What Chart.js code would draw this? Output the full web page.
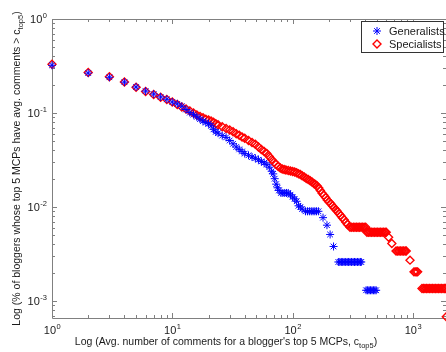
<!DOCTYPE html>
<html>
<head>
<meta charset="utf-8">
<script src="https://cdn.jsdelivr.net/npm/chart.js"></script>
<style>
  html, body { margin: 0; padding: 0; background: #fff; }
  canvas { display: block; }
</style>
</head>
<body>
<canvas id="chart" width="446" height="352"></canvas>
<script>
// avg. comments (c_top5) and fraction of bloggers above it
var genX = [1, 2, 3, 4, 5, 6, 7, 8, 9,
  10, 11, 12, 13, 14, 15, 16, 17, 18, 19, 20, 21, 22, 23, 24,
  26, 28, 30, 32, 34, 36, 38, 40,
  43, 46, 49, 52, 55, 58, 61, 64, 67,
  69, 71, 73, 75, 77,
  80, 83, 86, 89, 92,
  96, 100, 104, 108, 112, 116, 120,
  128, 133, 138, 143, 148, 153, 158, 164,
  179, 193, 205, 219,
  240, 247, 254, 261, 268, 276, 284, 292, 300, 309, 318, 327, 336, 346, 356, 366, 372,
  408, 420, 432, 444, 457, 470, 483, 495];
var genY = [0.322, 0.266, 0.240, 0.213, 0.189, 0.171, 0.159, 0.148, 0.140,
  0.131, 0.125, 0.118, 0.109, 0.101, 0.096, 0.091, 0.086, 0.082, 0.079, 0.077, 0.073, 0.067, 0.063, 0.061,
  0.0575, 0.055, 0.051, 0.047, 0.0435, 0.041, 0.039, 0.037,
  0.0355, 0.034, 0.033, 0.0318, 0.0305, 0.0295, 0.0282, 0.0265, 0.0240,
  0.0225, 0.0200, 0.0175, 0.0160, 0.0150,
  0.0141, 0.0141, 0.0141, 0.0141, 0.0141,
  0.0135, 0.0128, 0.0122, 0.0115, 0.0103, 0.0100, 0.0095,
  0.0090, 0.0090, 0.0090, 0.0090, 0.0090, 0.0090, 0.0090, 0.0090,
  0.0077, 0.0064, 0.0051, 0.0038,
  0.0026, 0.0026, 0.0026, 0.0026, 0.0026, 0.0026, 0.0026, 0.0026, 0.0026, 0.0026, 0.0026, 0.0026, 0.0026, 0.0026, 0.0026, 0.0026, 0.0026,
  0.0013, 0.0013, 0.0013, 0.0013, 0.0013, 0.0013, 0.0013, 0.0013];

var specX = [1, 2, 3, 4, 5, 6, 7, 8, 9,
  10, 11, 12, 13, 14, 15, 16, 17, 18, 19, 20, 21, 22, 23, 24,
  26, 28, 30, 32, 34, 36, 38, 40,
  43, 46, 49, 52, 55, 58, 61, 64, 67,
  70, 73, 76, 79, 82, 85, 88,
  92, 96, 100, 104, 108, 112, 116, 120,
  125, 130, 135, 140, 145, 150, 155, 160, 165, 170, 176,
  182, 188, 194, 200, 207, 214, 221, 228, 235, 243, 251, 259, 268, 277, 286,
  300, 310, 320, 330, 340, 350, 360, 371, 382, 393, 405,
  415, 427, 440, 453, 466, 480, 494, 508, 523, 538, 554, 570, 587, 600,
  628, 668,
  724, 745, 767, 790, 813, 837, 862, 880,
  946,
  1020, 1045, 1070, 1095,
  1190, 1225, 1260, 1297, 1335, 1374, 1414, 1455, 1498, 1541, 1586, 1632, 1680, 1729, 1780, 1832, 1870,
  1895];
var specY = [0.330, 0.270, 0.243, 0.214, 0.188, 0.169, 0.157, 0.147, 0.139,
  0.131, 0.123, 0.116, 0.110, 0.105, 0.100, 0.095, 0.092, 0.089, 0.086, 0.084, 0.082, 0.0795, 0.077, 0.075,
  0.0715, 0.0685, 0.066, 0.063, 0.060, 0.058, 0.0555, 0.054,
  0.051, 0.0485, 0.0465, 0.0435, 0.041, 0.039, 0.037, 0.0345, 0.032,
  0.030, 0.0285, 0.027, 0.026, 0.0253, 0.0250, 0.0248,
  0.0245, 0.0242, 0.0239, 0.0236, 0.0231, 0.0226, 0.0221, 0.0215,
  0.0208, 0.0201, 0.0196, 0.0190, 0.0184, 0.0178, 0.0173, 0.0167, 0.0159, 0.0150, 0.0140,
  0.0133, 0.0126, 0.0119, 0.0114, 0.0109, 0.0103, 0.0098, 0.0094, 0.0090, 0.0085, 0.0081, 0.0077, 0.0073, 0.0069, 0.0065,
  0.0061, 0.0061, 0.0061, 0.0061, 0.0061, 0.0061, 0.0061, 0.0061, 0.0061, 0.0061, 0.0061,
  0.0054, 0.0054, 0.0054, 0.0054, 0.0054, 0.0054, 0.0054, 0.0054, 0.0054, 0.0054, 0.0054, 0.0054, 0.0054, 0.0054,
  0.00476, 0.00408,
  0.0034, 0.0034, 0.0034, 0.0034, 0.0034, 0.0034, 0.0034, 0.0034,
  0.00272,
  0.00204, 0.00204, 0.00204, 0.00204,
  0.00136, 0.00136, 0.00136, 0.00136, 0.00136, 0.00136, 0.00136, 0.00136, 0.00136, 0.00136, 0.00136, 0.00136, 0.00136, 0.00136, 0.00136, 0.00136, 0.00136,
  0.00068];

var xDecades = [0, 1, 2, 3];
var yDecades = [0, -1, -2, -3];
var xMin = 1, xMax = 1884;
var yMin = 6.59e-4, yMax = 1;

var FONT = '"Liberation Sans", Arial, Helvetica, sans-serif';
var INK = '#1a1a1a';
var AXIS = '#808080';

function pts(xs, ys) {
  return xs.map(function (x, i) { return { x: x, y: ys[i] }; });
}

// "10" with a raised exponent, matlab style
function drawPow(ctx, px, py, exp, align) {
  var base = '10', sup = String(exp);
  ctx.font = '11px ' + FONT;
  var w1 = ctx.measureText(base).width;
  ctx.font = '7.5px ' + FONT;
  var w2 = ctx.measureText(sup).width;
  var left = align === 'right' ? px - w1 - w2 - 0.5 : px - (w1 + w2) / 2;
  ctx.textAlign = 'left';
  ctx.textBaseline = 'alphabetic';
  ctx.font = '11px ' + FONT;
  ctx.fillText(base, left, py);
  ctx.font = '7.5px ' + FONT;
  ctx.fillText(sup, left + w1 + 0.5, py - 5);
}

function drawSubText(ctx, pre, sub, post, cx, cy) {
  ctx.textAlign = 'left';
  ctx.textBaseline = 'alphabetic';
  ctx.font = '10.5px ' + FONT;
  var w1 = ctx.measureText(pre).width;
  var w3 = ctx.measureText(post).width;
  ctx.font = '7.5px ' + FONT;
  var w2 = ctx.measureText(sub).width;
  var left = cx - (w1 + w2 + w3) / 2;
  ctx.font = '10.5px ' + FONT;
  ctx.fillText(pre, left, cy);
  ctx.fillText(post, left + w1 + w2, cy);
  ctx.font = '7.5px ' + FONT;
  ctx.fillText(sub, left + w1, cy + 3);
}

var frame = {
  id: 'frame',
  beforeDatasetsDraw: function (chart) {
    var ctx = chart.ctx, a = chart.chartArea;
    var xs = chart.scales.x, ys = chart.scales.y;
    ctx.save();
    ctx.strokeStyle = AXIS;
    ctx.lineWidth = 1;
    ctx.beginPath();
    ctx.moveTo(a.left + 0.5, a.bottom + 0.5);
    ctx.lineTo(a.left + 0.5, a.top + 0.5);
    ctx.lineTo(a.right + 0.5, a.top + 0.5);
    ctx.lineTo(a.right + 0.5, a.bottom + 0.5);
    ctx.closePath();
    ctx.stroke();

    ctx.beginPath();
    xDecades.forEach(function (e) {
      for (var m = 1; m <= 9; m++) {
        var v = m * Math.pow(10, e);
        if (v < xMin || v > xMax) continue;
        var p = Math.round(xs.getPixelForValue(v)) + 0.5;
        var len = m === 1 ? 5 : 3;
        ctx.moveTo(p, a.bottom); ctx.lineTo(p, a.bottom - len);
        ctx.moveTo(p, a.top); ctx.lineTo(p, a.top + len);
      }
    });
    [-4, -3, -2, -1, 0].forEach(function (e) {
      for (var m = 1; m <= 9; m++) {
        var v = m * Math.pow(10, e);
        if (v < yMin || v > yMax) continue;
        var p = Math.round(ys.getPixelForValue(v)) + 0.5;
        var len = m === 1 ? 5 : 3;
        ctx.moveTo(a.left, p); ctx.lineTo(a.left + len, p);
        ctx.moveTo(a.right, p); ctx.lineTo(a.right - len, p);
      }
    });
    ctx.stroke();

    ctx.fillStyle = INK;
    xDecades.forEach(function (e) {
      drawPow(ctx, xs.getPixelForValue(Math.pow(10, e)), 334, e, 'center');
    });
    yDecades.forEach(function (e) {
      drawPow(ctx, a.left - 5, ys.getPixelForValue(Math.pow(10, e)) + 4, e, 'right');
    });

    drawSubText(ctx, "Log (Avg. number of comments for a blogger's top 5 MCPs, c", 'top5', ')', 226, 345);
    ctx.translate(20, (a.top + a.bottom) / 2);
    ctx.rotate(-Math.PI / 2);
    drawSubText(ctx, 'Log (% of bloggers whose top 5 MCPs have avg. comments > c', 'top5', ')', 0, 0);
    ctx.restore();
  },
  afterDatasetsDraw: function (chart) {
    var ctx = chart.ctx;
    ctx.save();
    ctx.fillStyle = '#fff';
    ctx.strokeStyle = '#333';
    ctx.lineWidth = 1;
    ctx.fillRect(361.5, 21.5, 82, 31);
    ctx.strokeRect(361.5, 21.5, 82, 31);
    chart.data.datasets.forEach(function (ds, i) {
      var cy = 31 + i * 13;
      ctx.strokeStyle = ds.borderColor;
      ctx.fillStyle = ds.backgroundColor;
      ctx.lineWidth = ds.borderWidth;
      Chart.helpers.drawPoint(ctx, { pointStyle: ds.pointStyle, radius: ds.pointRadius, rotation: 0, borderWidth: ds.borderWidth }, 377, cy);
      ctx.fillStyle = INK;
      ctx.font = '11px ' + FONT;
      ctx.textAlign = 'left';
      ctx.textBaseline = 'middle';
      ctx.fillText(ds.label, 389, cy + 0.5);
    });
    ctx.restore();
  }
};

new Chart(document.getElementById('chart'), {
  type: 'scatter',
  data: {
    datasets: [{
      label: 'Generalists',
      data: pts(genX, genY),
      pointStyle: 'star',
      pointRadius: 4,
      borderWidth: 1,
      borderColor: '#0000ff',
      backgroundColor: '#0000ff',
      clip: false
    }, {
      label: 'Specialists',
      data: pts(specX, specY),
      pointStyle: 'rectRot',
      pointRadius: 4,
      borderWidth: 1.4,
      borderColor: '#ff0000',
      backgroundColor: 'rgba(255,255,255,0)',
      clip: false
    }]
  },
  options: {
    responsive: false,
    animation: false,
    layout: { autoPadding: false, padding: { top: 19, right: 0, bottom: 0, left: 0 } },
    plugins: { legend: { display: false }, tooltip: { enabled: false } },
    scales: {
      x: {
        type: 'logarithmic', min: xMin, max: xMax,
        grid: { display: false }, border: { display: false },
        ticks: { display: false },
        afterFit: function (s) { s.height = 34; }
      },
      y: {
        type: 'logarithmic', min: yMin, max: yMax,
        grid: { display: false }, border: { display: false },
        ticks: { display: false },
        afterFit: function (s) { s.width = 52; }
      }
    }
  },
  plugins: [frame]
});
</script>
</body>
</html>
